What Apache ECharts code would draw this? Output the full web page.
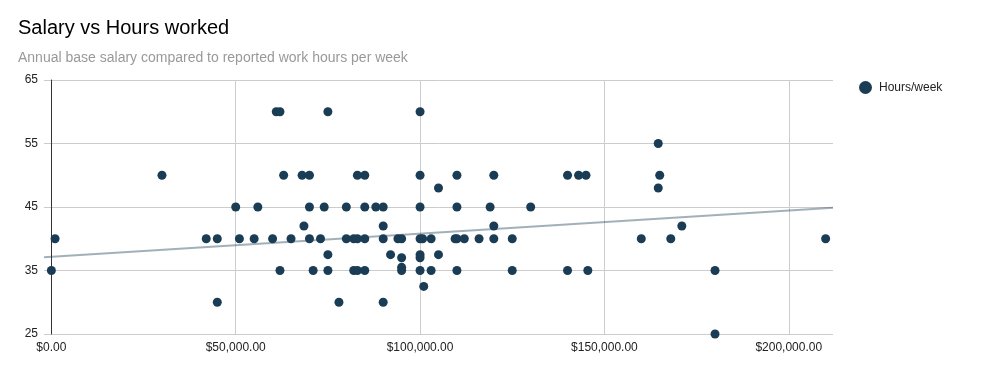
<!DOCTYPE html>
<html>
<head>
<meta charset="utf-8">
<script src="https://cdn.jsdelivr.net/npm/echarts@6/dist/echarts.min.js"></script>
<style>
html,body{margin:0;padding:0;background:#fff;}
#chart{width:981px;height:371px;}
</style>
</head>
<body>
<div id="chart"></div>
<script>
const salaries = [
  0, 1000, 30000, 42000, 45000, 45000, 50000, 51000, 55000, 56000,
  60000, 61000, 62000, 62000, 63000, 65000, 68000, 68500, 70000, 70000,
  70000, 71000, 73000, 74000, 75000, 75000, 75000, 78000, 80000, 80000,
  82000, 83000, 85000, 82000, 83000, 85000, 83000, 85000, 85000, 88000,
  90000, 90000, 90000, 90000, 92000, 94000, 95000, 95000, 95000, 95000,
  100000, 100000, 100000, 100000, 100700, 100000, 100000, 100000, 101000, 103000,
  103000, 105000, 105000, 109500, 110000, 112000, 110000, 110000, 110000, 116000,
  119000, 120000, 120000, 120000, 125000, 125000, 130000, 140000, 143000, 145000,
  140000, 145500, 160000, 164600, 165000, 164600, 168000, 171000, 180000, 180000,
  210000
];
const hoursPerWeek = [
  35, 40, 50, 40, 40, 30, 45, 40, 40, 45,
  40, 60, 60, 35, 50, 40, 50, 42, 50, 45,
  40, 35, 40, 45, 60, 37.5, 35, 30, 45, 40,
  40, 40, 40, 35, 35, 35, 50, 50, 45, 45,
  45, 42, 40, 30, 37.5, 40, 40, 37, 35.5, 35,
  60, 50, 45, 40, 40, 37.5, 37, 35, 32.5, 40,
  35, 48, 37.5, 40, 40, 40, 50, 45, 35, 40,
  45, 50, 42, 40, 40, 35, 45, 50, 50, 50,
  35, 35, 40, 55, 50, 48, 40, 42, 35, 25,
  40
];
const trendX = [-2000, 212000];
const trendY = [37.1, 44.9];
const xTicks = [0, 50000, 100000, 150000, 200000];
const yTicks = [25, 35, 45, 55, 65];
const seriesName = 'Hours/week';

const points = salaries.map((s, i) => [s, hoursPerWeek[i]]);
const trend = trendX.map((x, i) => [x, trendY[i]]);
const font = 'Arial, "Liberation Sans", sans-serif';

function money(v) {
  return '$' + Number(v).toLocaleString('en-US', {minimumFractionDigits: 2, maximumFractionDigits: 2});
}

const chart = echarts.init(document.getElementById('chart'), null, {renderer: 'canvas'});
chart.setOption({
  animation: false,
  backgroundColor: '#ffffff',
  title: [
    {text: 'Salary vs Hours worked', left: 18, top: 18, padding: 0,
     textStyle: {fontFamily: font, fontSize: 20, fontWeight: 'normal', color: '#000000'}},
    {text: 'Annual base salary compared to reported work hours per week', left: 18, top: 51, padding: 0,
     textStyle: {fontFamily: font, fontSize: 14, fontWeight: 'normal', color: '#999999'}}
  ],
  legend: {
    data: [seriesName], left: 859, top: 81, padding: 0, icon: 'circle',
    itemWidth: 13, itemHeight: 13, itemGap: 8,
    textStyle: {fontFamily: font, fontSize: 12, color: '#222222', padding: [0, 0, 0, 2]}
  },
  grid: {left: 44, right: 148, top: 80, bottom: 37, containLabel: false},
  xAxis: {
    type: 'value', min: trendX[0], max: trendX[1],
    axisLine: {show: false},
    axisTick: {show: false, customValues: xTicks},
    axisLabel: {customValues: xTicks, formatter: money, margin: 8,
      fontFamily: font, fontSize: 12, color: '#222222'},
    splitLine: {show: true, lineStyle: {color: '#cccccc', width: 1}}
  },
  yAxis: {
    type: 'value', min: yTicks[0], max: yTicks[yTicks.length - 1],
    axisLine: {show: true, onZero: true, lineStyle: {color: '#333333', width: 1}},
    axisTick: {show: false, customValues: yTicks},
    axisLabel: {customValues: yTicks, margin: 6, fontFamily: font, fontSize: 12, color: '#222222'},
    splitLine: {show: true, lineStyle: {color: '#cccccc', width: 1}}
  },
  series: [
    {
      name: 'Trendline', type: 'line', data: trend, showSymbol: false, symbol: 'none',
      lineStyle: {color: '#17394f', opacity: 0.4, width: 2}, silent: true, z: 1
    },
    {
      name: seriesName, type: 'scatter', data: points, symbol: 'circle', symbolSize: 9,
      itemStyle: {color: '#1a3d55', opacity: 1}, clip: false, z: 3
    }
  ]
});
</script>
</body>
</html>
